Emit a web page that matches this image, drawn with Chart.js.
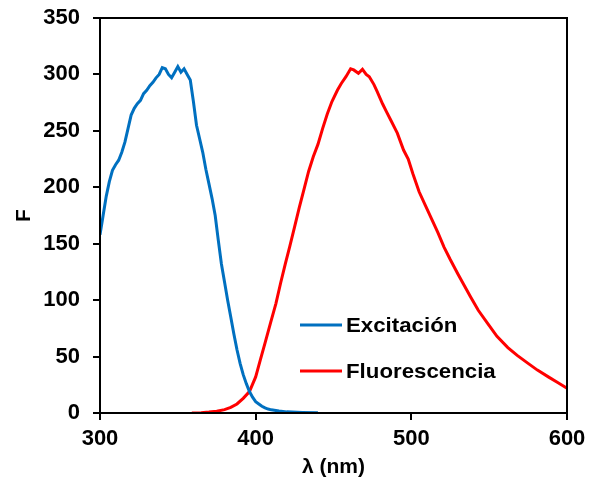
<!DOCTYPE html>
<html>
<head>
<meta charset="utf-8">
<script src="https://cdn.jsdelivr.net/npm/chart.js@4.4.1/dist/chart.umd.min.js"></script>
<style>
  html, body { margin: 0; padding: 0; background: #fff; }
  #wrap { position: relative; width: 589px; height: 481px; }
</style>
</head>
<body>
<div id="wrap"><canvas id="c" width="589" height="481"></canvas></div>
<script>
const seriesNames = ["Excitación", "Fluorescencia"];
const xTicks = [300, 400, 500, 600];
const yTicks = [0, 50, 100, 150, 200, 250, 300, 350];

const excX = [300,302,304,306,308,310,312,314,316,318,320,322,324,326,328,330,332,334,336,338,340,342,344,346,348,350,352,354,356,358,360,362,364,366,368,370,372,374,376,378,380,382,384,386,388,390,392,394,396,398,400,402,404,406,408,410,415,420,430,440];
const excY = [158,175,192,205,215,220,224,231,240,252,264,270,274,277,283,286,290,293,297,300,306,305,300,297,302,307,302,305,300,295,276,255,243,231,216,203,190,175,153,132,116,100,85,70,56,44,34,26,19,14,10,8,6,4.5,3.5,2.8,1.8,1,0.5,0.3];

const fluX = [359,365,370,375,380,384,388,392,396,400,403,406,409.6,413,416,419,422,425,428,431,434,437,440,443,446,449,452.5,455,458,461,463,466,468.6,471,473,476,478,481.5,484,487,491,495,498,501,505,509,513,517,521,525,530,534,538,543,549,555,562,568,575,581,588,594,600];
const fluY = [0,0.3,0.8,1.5,3,5,8,13,19,32,47,62,80,97,115,132,148,165,182,198,214,227,238,252,265,276,286,292,298,305,304,301,304.5,300,298,291,285,274,267,259,248,233,225,212,196,184,172,160,147,136,123,113,103,91,79.5,68,58,51,44,38,32,27,22];

const toPts = (xs, ys) => xs.map((x, i) => ({ x: x, y: ys[i] }));
const colors = ["#0070C0", "#FF0000"];
const FONT = "'Liberation Sans', Arial, sans-serif";

const framePlugin = {
  id: 'frame',
  afterDraw(chart) {
    const { ctx, chartArea: a } = chart;
    ctx.save();
    ctx.strokeStyle = '#000';
    ctx.lineWidth = 2;
    ctx.strokeRect(a.left, a.top, a.right - a.left, a.bottom - a.top);
    const items = [
      { label: seriesNames[0], color: colors[0], y: 325 },
      { label: seriesNames[1], color: colors[1], y: 371 }
    ];
    ctx.font = "bold 21px " + FONT;
    ctx.textBaseline = 'middle';
    ctx.textAlign = 'left';
    items.forEach(it => {
      ctx.strokeStyle = it.color;
      ctx.lineWidth = 3;
      ctx.beginPath();
      ctx.moveTo(300, it.y);
      ctx.lineTo(342, it.y);
      ctx.stroke();
      ctx.fillStyle = '#000';
      ctx.save();
      ctx.translate(346, it.y + 1);
      ctx.scale(1.06, 1);
      ctx.fillText(it.label, 0, 0);
      ctx.restore();
    });
    ctx.restore();
  }
};

new Chart(document.getElementById('c'), {
  type: 'line',
  data: {
    datasets: [
      { label: seriesNames[0], data: toPts(excX, excY), borderColor: colors[0], borderWidth: 3, pointRadius: 0, tension: 0, fill: false },
      { label: seriesNames[1], data: toPts(fluX, fluY), borderColor: colors[1], borderWidth: 3, pointRadius: 0, tension: 0, fill: false }
    ]
  },
  options: {
    responsive: false,
    animation: false,
    layout: { padding: { top: 18, right: 22, left: 0, bottom: 0 } },
    plugins: { legend: { display: false }, tooltip: { enabled: false } },
    scales: {
      x: {
        type: 'linear', min: 300, max: 600,
        afterBuildTicks: s => { s.ticks = xTicks.map(v => ({ value: v })); },
        afterFit: s => { s.height = 68; s.paddingLeft = 0; s.paddingRight = 0; },
        grid: { drawOnChartArea: false, tickLength: 7, color: '#000', lineWidth: 2 },
        border: { color: '#000', width: 2 },
        ticks: { color: '#000', padding: 6, font: { family: FONT, size: 22, weight: 'bold' }, maxRotation: 0 },
        title: { display: true, text: 'λ (nm)', color: '#000', padding: { top: 2, bottom: 1 }, font: { family: FONT, size: 21, weight: 'bold' } }
      },
      y: {
        type: 'linear', min: 0, max: 350,
        afterBuildTicks: s => { s.ticks = yTicks.map(v => ({ value: v })); },
        afterFit: s => { s.width = 100; s.paddingTop = 0; s.paddingBottom = 0; },
        grid: { drawOnChartArea: false, tickLength: 7, color: '#000', lineWidth: 2 },
        border: { color: '#000', width: 2 },
        ticks: { color: '#000', padding: 13, font: { family: FONT, size: 22, weight: 'bold' } },
        title: { display: true, text: 'F', color: '#000', padding: { top: 12, bottom: 4 }, font: { family: FONT, size: 21, weight: 'bold' } }
      }
    }
  },
  plugins: [framePlugin]
});
</script>
</body>
</html>
